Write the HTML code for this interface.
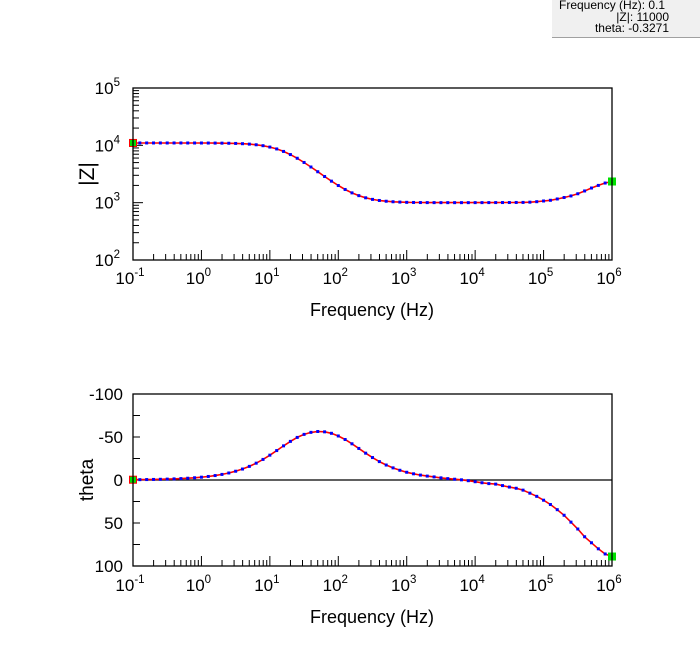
<!DOCTYPE html>
<html><head><meta charset="utf-8"><style>
body{margin:0;width:700px;height:649px;background:#fff;overflow:hidden;font-family:"Liberation Sans",Arial,sans-serif}
#info{position:absolute;left:552px;top:0;width:148px;height:37px;background:#f0f0f0;border-bottom:1px solid #a0a0a0;font-size:12px;line-height:11.5px;text-align:right;color:#000;font-stretch:condensed}
#info div{padding-right:31px}
</style></head><body>
<div id="info">
<div style="text-align:left;padding-left:7px;padding-top:0px">Frequency (Hz): 0.1</div>
<div>|Z|: 11000</div>
<div>theta: -0.3271</div>
</div>
<svg id="chart" width="700" height="649" style="position:absolute;left:0;top:0"></svg>
<script>
// frequency exponents from -1 to 6 in 0.1 steps (71 points)
const freqExp = [-1,-0.9,-0.8,-0.7,-0.6,-0.5,-0.4,-0.3,-0.2,-0.1,0,0.1,0.2,0.3,0.4,0.5,0.6,0.7,0.8,0.9,1,1.1,1.2,1.3,1.4,1.5,1.6,1.7,1.8,1.9,2,2.1,2.2,2.3,2.4,2.5,2.6,2.7,2.8,2.9,3,3.1,3.2,3.3,3.4,3.5,3.6,3.7,3.8,3.9,4,4.1,4.2,4.3,4.4,4.5,4.6,4.7,4.8,4.9,5,5.1,5.2,5.3,5.4,5.5,5.6,5.7,5.8,5.9,6];
const zMag = [11000,11000,11000,10999,10998,10998,10997,10995,10991,10986,10979,10966,10946,10915,10867,10791,10674,10496,10233,9853,9330,8650,7827,6904,5948,5025,4188,3463,2859,2373,1991,1699,1482,1326,1216,1141,1092,1059,1037,1024,1013,1008,1005,1003,1002,1001,1001,1001,1001,1001,1002,1002,1003,1004,1005,1006,1008,1010,1020,1040,1070,1100,1160,1230,1310,1430,1600,1800,2000,2200,2340];
const theta = [-0.33,-0.41,-0.52,-0.65,-0.82,-1.03,-1.3,-1.64,-2.06,-2.6,-3.27,-4.11,-5.17,-6.49,-8.15,-10.2,-12.74,-15.84,-19.56,-23.93,-28.87,-34.23,-39.7,-44.9,-49.5,-53.05,-55.4,-56.4,-56,-54.3,-51.2,-47.1,-42.1,-36.7,-31.2,-26.1,-21.4,-17.4,-14.1,-11.3,-9,-7.2,-5.7,-4.55,-3.6,-2.5,-1.6,-0.9,-0.2,0.8,2,3.2,4.2,4.8,6.5,8.2,9.6,11.8,15.3,19,23.5,28.5,34.5,41,49,57,66,73,80,86,89];
const xTickExp = [-1,0,1,2,3,4,5,6];
const zTickExp = [2,3,4,5];
const thetaTicks = [-100,-50,0,50,100];

const NS="http://www.w3.org/2000/svg";
const svg=document.getElementById('chart');
function mk(tag,attrs,parent){const e=document.createElementNS(NS,tag);for(const k in attrs)e.setAttribute(k,attrs[k]);(parent||svg).appendChild(e);return e;}
const X0=133,X1=612;
const xs=e=>X0+(e+1)*(X1-X0)/7;
const T1={top:88,bot:260};
const yz=v=>T1.bot-(Math.log10(v)-2)*(T1.bot-T1.top)/3;
const T2={top:394,bot:566};
const yt=v=>T2.top+(v+100)*(T2.bot-T2.top)/200;

function xAxis(g,top,bot,labY){
  for(let d=-1;d<6;d++){for(let m=2;m<=9;m++){const x=xs(d+Math.log10(m));const t=mk('line',{x1:x,x2:x,y1:bot,y2:bot-6,stroke:'#000','stroke-width':1},g);}}
  xTickExp.forEach(e=>{const x=xs(e);const t=mk('line',{x1:x,x2:x,y1:bot,y2:bot-10,stroke:'#000','stroke-width':1},g);
    
    const tx=mk('text',{x:x-3,y:labY,'font-size':17,'text-anchor':'middle'},g);
    
    tx.textContent='10';const s=mk('tspan',{dy:-8,'font-size':11.5},tx);s.textContent=String(e);});
}
function frame(g,top,bot){const r=mk('rect',{x:X0,y:top,width:X1-X0,height:bot-top,fill:'none',stroke:'#000','stroke-width':1.3},g);}
function series(g,ys,name){
  const pts=freqExp.map((e,i)=>xs(e).toFixed(1)+','+ys(i).toFixed(1)).join(' ');
  const l=mk('polyline',{points:pts,fill:'none',stroke:'#ff0000','stroke-width':1.6},g);
  
  freqExp.forEach((e,i)=>{const d=mk('rect',{x:xs(e)-1.5,y:ys(i)-1.5,width:3,height:3,fill:'#0000ff'},g);
    });
  const n=freqExp.length-1;
  const a=mk('rect',{x:xs(freqExp[0])-3.5,y:ys(0)-3.5,width:7,height:7,fill:'#00e000',stroke:'#ff0000','stroke-width':1},g);
  
  const b=mk('rect',{x:xs(freqExp[n])-4,y:ys(n)-4,width:8,height:8,fill:'#00e000'},g);
  
}
const g1=mk('g',{});
for(let d=2;d<5;d++){for(let m=2;m<=9;m++){const y=yz(m*Math.pow(10,d));const t=mk('line',{x1:X0,x2:X0+6,y1:y,y2:y,stroke:'#000'},g1);}}
zTickExp.forEach(e=>{const y=yz(Math.pow(10,e));const t=mk('line',{x1:X0,x2:X0+10,y1:y,y2:y,stroke:'#000'},g1);
  const tx=mk('text',{x:120,y:y+6,'font-size':17,'text-anchor':'end'},g1);
  tx.textContent='10';const s=mk('tspan',{dy:-8,'font-size':11.5},tx);s.textContent=String(e);});
xAxis(g1,T1.top,T1.bot,284);
series(g1,i=>yz(zMag[i]),'magnitude');
frame(g1,T1.top,T1.bot);
let t=mk('text',{x:372,y:316,'font-size':18,'text-anchor':'middle'},g1);t.textContent='Frequency (Hz)';
t=mk('text',{x:0,y:0,'font-size':21,'text-anchor':'middle',transform:'translate(94,174) rotate(-90)'},g1);t.textContent='|Z|';
const g2=mk('g',{});
for(let v=-75;v<=75;v+=50){const y=yt(v);const m=mk('line',{x1:X0,x2:X0+7,y1:y,y2:y,stroke:'#000'},g2);}
thetaTicks.forEach(v=>{const y=yt(v);const m=mk('line',{x1:X0,x2:X0+7,y1:y,y2:y,stroke:'#000'},g2);
  const tx=mk('text',{x:123,y:y+6,'font-size':17,'text-anchor':'end'},g2);tx.textContent=String(v);});
const zl=mk('line',{x1:X0,x2:X1,y1:yt(0),y2:yt(0),stroke:'#000','stroke-width':1.2},g2);
xAxis(g2,T2.top,T2.bot,591);
series(g2,i=>yt(theta[i]),'theta');
frame(g2,T2.top,T2.bot);
t=mk('text',{x:372,y:623,'font-size':18,'text-anchor':'middle'},g2);t.textContent='Frequency (Hz)';
t=mk('text',{x:0,y:0,'font-size':19,'text-anchor':'middle',transform:'translate(93,480) rotate(-90)'},g2);t.textContent='theta';
</script>
</body></html>
